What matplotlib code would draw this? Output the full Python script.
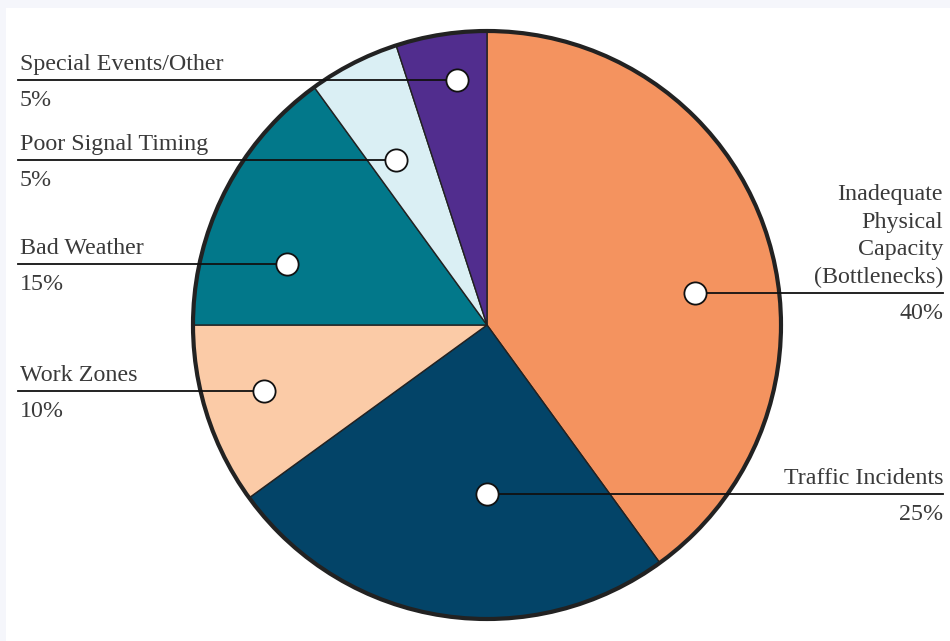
import numpy as np
import matplotlib.pyplot as plt
from matplotlib.patches import Rectangle

# dados do gráfico
categorias = ["Inadequate\nPhysical\nCapacity\n(Bottlenecks)", "Traffic Incidents", "Work Zones",
              "Bad Weather", "Poor Signal Timing", "Special Events/Other"]
valores = [40, 25, 10, 15, 5, 5]
rotulos_pct = ["40%", "25%", "10%", "15%", "5%", "5%"]
cores = ["#F4935F", "#034468", "#FBCBA7", "#02788A", "#DAEFF4", "#512D8E"]

# posicao dos marcadores (angulo em graus, fracao do raio)
marcador_ang = [8.7, -90, -163.4, 163, 119, 97]
marcador_r = [0.714, 0.575, 0.79, 0.71, 0.64, 0.84]
lado = ["right", "right", "left", "left", "left", "left"]

W, H = 950, 641
cx, cy, raio = 487, H - 325, 294

fig = plt.figure(figsize=(W / 100, H / 100), dpi=100)
fig.patch.set_facecolor("#f5f6fb")
ax = fig.add_axes([0, 0, 1, 1])

ax.pie(valores, colors=cores, startangle=90, counterclock=False,
       center=(cx, cy), radius=raio,
       wedgeprops=dict(edgecolor="#222222", linewidth=1.0))
# contorno externo
circ = plt.Circle((cx, cy), raio, fill=False, edgecolor="#222222", linewidth=3, zorder=3)
ax.add_patch(circ)

# cartao branco de fundo
ax.add_patch(Rectangle((6, -10), W, H - 8 + 10, facecolor="white", edgecolor="none", zorder=-5))

cor_texto = "#3a3a3a"
fonte = "Liberation Serif"
fs = 17.3
for i in range(len(valores)):
    a = np.radians(marcador_ang[i])
    mx = cx + raio * marcador_r[i] * np.cos(a)
    my = cy + raio * marcador_r[i] * np.sin(a)
    if lado[i] == "left":
        x0, x1 = 18, mx
        tx, ha = 20, "left"
    else:
        x0, x1 = mx, 943
        tx, ha = 943, "right"
    ax.plot([x0, x1], [my, my], color="#111111", linewidth=1.3, zorder=4)
    ax.plot(mx, my, "o", markersize=16, markerfacecolor="white",
            markeredgecolor="#111111", markeredgewidth=1.3, zorder=5)
    ax.text(tx, my + 10, categorias[i], ha=ha, va="baseline", fontsize=fs,
            family=fonte, color=cor_texto, linespacing=1.42)
    ax.text(tx, my - 26, rotulos_pct[i], ha=ha, va="baseline", fontsize=fs,
            family=fonte, color=cor_texto)

ax.set_xlim(0, W)
ax.set_ylim(0, H)
ax.set_aspect("equal")
ax.axis("off")

fig.savefig("out.png", dpi=100, facecolor=fig.get_facecolor())
